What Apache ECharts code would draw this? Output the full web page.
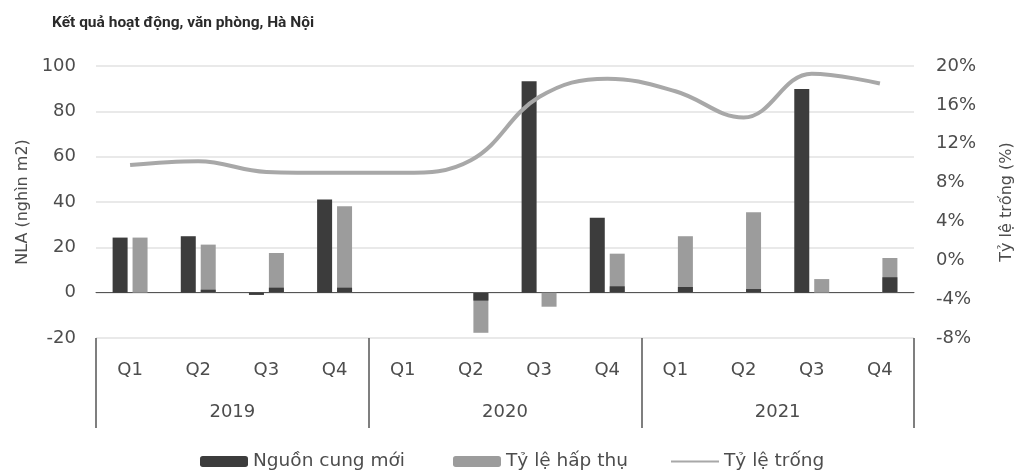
<!DOCTYPE html>
<html>
<head>
<meta charset="utf-8">
<script src="https://cdn.jsdelivr.net/npm/echarts@6/dist/echarts.min.js"></script>
<style>
  html, body { margin: 0; padding: 0; background: #ffffff; }
  #chart { width: 1023px; height: 475px; }
</style>
</head>
<body>
<div id="chart"></div>
<script>
// Quarters and years on the category axis
const quarters = ['Q1', 'Q2', 'Q3', 'Q4', 'Q1', 'Q2', 'Q3', 'Q4', 'Q1', 'Q2', 'Q3', 'Q4'];
const years = ['2019', '2020', '2021'];

// New supply, thousand m2 NLA
const nguonCungMoi = [24.3, 24.9, -1, 41.1, 0, 0, 93.3, 33.0, 0, 0, 89.9, 0];
// Net absorption, thousand m2 NLA
const hapThu = [24.3, 21.2, 17.5, 38.1, 0, -17.7, -6.2, 17.2, 24.9, 35.5, 6.0, 15.3];
// Dark base segment shown at the foot of the absorption bars
const hapThuNen = [0, 1.3, 2.2, 2.2, 0, -3.5, 0, 2.8, 2.5, 1.6, 0, 6.8];
// Vacancy rate, %
const tyLeTrong = [9.8, 10.2, 9.1, 9.0, 9.0, 10.3, 16.8, 18.7, 17.4, 14.7, 19.2, 18.2];

const labelFont = 'DejaVu Sans';
const textColor = '#4d4d4d';
const dark = '#3c3c3c';
const gray = '#9c9c9c';
const lineGray = '#a8a8a8';

const legendText = { fontFamily: labelFont, fontSize: 18.5, color: textColor };
function legendAt(left, item) {
  return {
    data: [item],
    left: left,
    top: 447,
    itemWidth: 48,
    itemHeight: 11,
    textStyle: legendText
  };
}

const chart = echarts.init(document.getElementById('chart'), null, { renderer: 'canvas' });

chart.setOption({
  animation: false,
  backgroundColor: '#ffffff',
  title: {
    text: 'Kết quả hoạt động, văn phòng, Hà Nội',
    left: 47,
    top: 10,
    textStyle: {
      fontFamily: 'Roboto',
      fontWeight: 'bold',
      fontSize: 15.5,
      color: '#2a2a2a'
    }
  },
  legend: [
    legendAt(195, 'Nguồn cung mới'),
    legendAt(448, 'Tỷ lệ hấp thụ'),
    legendAt(665, { name: 'Tỷ lệ trống', itemStyle: { opacity: 0 } })
  ],
  grid: { left: 96, right: 103, top: 66, bottom: 137, containLabel: false },
  xAxis: [
    {
      type: 'category',
      data: quarters,
      position: 'bottom',
      axisLine: { show: false, onZero: false },
      axisTick: { show: false },
      axisLabel: { margin: 23, fontFamily: labelFont, fontSize: 18, color: textColor }
    },
    {
      type: 'category',
      data: quarters,
      position: 'bottom',
      axisLine: { show: true, onZero: true, lineStyle: { color: '#555555', width: 1 } },
      axisTick: { show: false },
      axisLabel: { show: false }
    },
    {
      type: 'category',
      data: years,
      position: 'bottom',
      axisLine: { show: false, onZero: false },
      axisTick: { show: true, length: 90, lineStyle: { color: '#555555', width: 1.5 } },
      axisLabel: { margin: 65, fontFamily: labelFont, fontSize: 18, color: textColor }
    }
  ],
  yAxis: [
    {
      type: 'value',
      name: 'NLA (nghìn m2)',
      nameLocation: 'middle',
      nameRotate: 90,
      nameGap: 64,
      nameTextStyle: { fontFamily: labelFont, fontSize: 16, color: textColor },
      min: -20,
      max: 100,
      interval: 20,
      axisLine: { show: false },
      axisTick: { show: false },
      axisLabel: { margin: 20, fontFamily: labelFont, fontSize: 18, color: textColor },
      splitLine: { lineStyle: { color: '#e2e2e2', width: 1.5 } }
    },
    {
      type: 'value',
      name: 'Tỷ lệ trống (%)',
      nameLocation: 'middle',
      nameRotate: 90,
      nameGap: 85,
      nameTextStyle: { fontFamily: labelFont, fontSize: 16, color: textColor },
      min: -8,
      max: 20,
      interval: 4,
      axisLine: { show: false },
      axisTick: { show: false },
      axisLabel: { margin: 22, formatter: '{value}%', fontFamily: labelFont, fontSize: 18, color: textColor },
      splitLine: { show: false }
    }
  ],
  series: [
    {
      name: 'Nguồn cung mới',
      type: 'bar',
      xAxisIndex: 0,
      yAxisIndex: 0,
      data: nguonCungMoi,
      barWidth: 15,
      barGap: '33%',
      itemStyle: { color: dark }
    },
    {
      name: 'Tỷ lệ hấp thụ',
      type: 'bar',
      xAxisIndex: 0,
      yAxisIndex: 0,
      data: hapThu,
      barWidth: 15,
      barGap: '33%',
      itemStyle: { color: gray }
    },
    {
      // empty slot so the base segment lines up with the absorption bars
      name: 'slot',
      type: 'bar',
      xAxisIndex: 1,
      yAxisIndex: 0,
      data: [],
      barWidth: 15,
      barGap: '33%'
    },
    {
      name: 'Tỷ lệ hấp thụ (nền)',
      type: 'bar',
      xAxisIndex: 1,
      yAxisIndex: 0,
      data: hapThuNen,
      barWidth: 15,
      barGap: '33%',
      z: 3,
      itemStyle: { color: dark }
    },
    {
      name: 'Tỷ lệ trống',
      type: 'line',
      xAxisIndex: 0,
      yAxisIndex: 1,
      data: tyLeTrong,
      smooth: 0.4,
      symbol: 'none',
      z: 4,
      lineStyle: { color: lineGray, width: 4 },
      itemStyle: { color: lineGray }
    }
  ]
});
</script>
</body>
</html>
